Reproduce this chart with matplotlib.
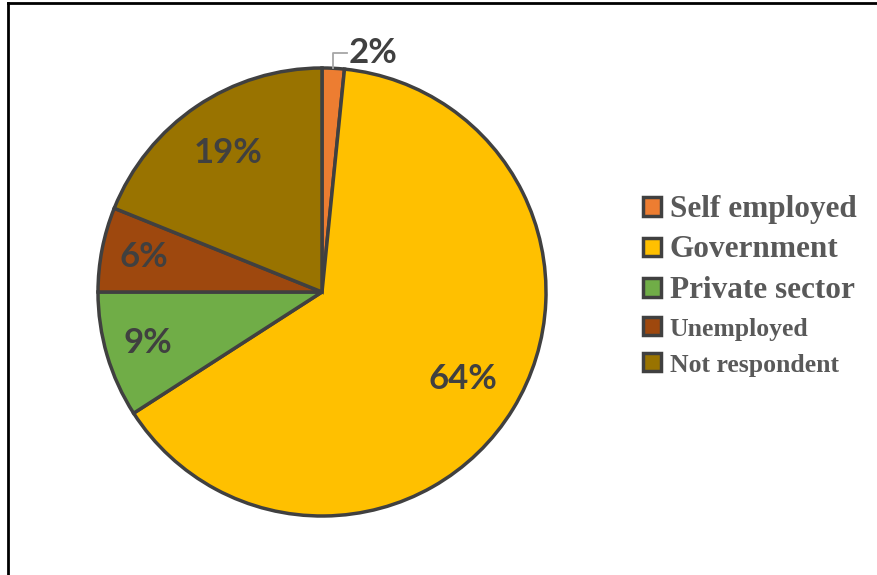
import numpy as np
import matplotlib.pyplot as plt
from matplotlib.patches import Patch

# Data
categories = ['Self employed', 'Government', 'Private sector', 'Unemployed', 'Not respondent']
shares = [1.6, 64.3, 9.1, 6.1, 18.9]
slice_colors = ['#ED7D31', '#FFC000', '#70AD47', '#9E480E', '#997300']
legend_sizes = [22.5, 22.5, 22.5, 18.5, 18.5]

edge_color = '#404040'
label_color = '#404040'

W, H = 877, 575
fig = plt.figure(figsize=(W / 100, H / 100), dpi=100)

# place the pie: center (322, 292) px, radius 224 px
cx, cy, r = 322, 292, 224
lim = 1.05
half = r * lim
ax = fig.add_axes([(cx - half) / W, (H - cy - half) / H, 2 * half / W, 2 * half / H])

wedges, _ = ax.pie(shares, colors=slice_colors, startangle=90, counterclock=False,
                   wedgeprops=dict(edgecolor=edge_color, linewidth=2.5))
ax.set_xlim(-lim, lim)
ax.set_ylim(-lim, lim)
ax.set_aspect('equal')
ax.axis('off')

# percentage labels
label_dist = [None, 0.74, 0.81, 0.81, 0.75]
for i, w in enumerate(wedges):
    mid = np.deg2rad((w.theta1 + w.theta2) / 2)
    txt = '%d%%' % round(shares[i])
    if label_dist[i] is None:
        # small slice: label outside with leader line
        x0, y0 = np.cos(mid), np.sin(mid)
        ax.plot([x0, x0, x0 + 0.06], [y0, y0 + 0.07, y0 + 0.07],
                color='#A6A6A6', lw=1.3, clip_on=False)
        ax.text(x0 + 0.07, y0 + 0.07, txt, ha='left', va='center',
                fontsize=25, fontweight='bold', family='Lato', color=label_color)
    else:
        d = label_dist[i]
        ax.text(d * np.cos(mid), d * np.sin(mid), txt, ha='center', va='center',
                fontsize=25, fontweight='bold', family='Lato', color=label_color)

# legend
handles = [Patch(facecolor=c, edgecolor=edge_color, linewidth=2.5) for c in slice_colors]
leg = fig.legend(handles, categories, loc='center left', bbox_to_anchor=(617 / W, 1 - 286 / H),
                 frameon=False, handlelength=0.6, handleheight=0.6, handletextpad=0.3,
                 labelspacing=0.4, prop=dict(family='Liberation Serif', weight='bold', size=21))
for t, s in zip(leg.get_texts(), legend_sizes):
    t.set_color('#595959')
    t.set_fontsize(s)

# outer frame (top and left edges visible)
fig.add_artist(plt.Line2D([8 / W, 8 / W], [0, 1 - 3 / H], color='black', lw=2,
                          transform=fig.transFigure))
fig.add_artist(plt.Line2D([8 / W, 1], [1 - 3 / H, 1 - 3 / H], color='black', lw=2,
                          transform=fig.transFigure))

fig.savefig('out.png', dpi=100)
